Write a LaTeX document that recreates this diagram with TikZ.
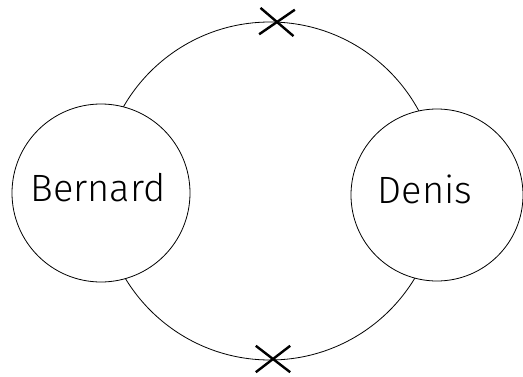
\documentclass[tikz,border=0pt]{standalone}
\usepackage{fontspec}
\setmainfont{Fira Sans Light}
\usetikzlibrary{shapes.misc}
\tikzset{
  loopring/.style={circle, draw, line width=0.8pt, inner sep=0pt},
  person/.style={circle, draw, fill=white, line width=0.8pt, inner sep=0pt},
  persontext/.style={inner sep=0pt, font=\fontsize{38}{44}\selectfont},
  cutmark/.style={cross out, draw, line width=2.4pt, inner sep=0pt,
    minimum width=32pt, minimum height=24pt},
}
\begin{document}
\begin{tikzpicture}[x=1pt, y=1pt]
  \useasboundingbox (0,0) rectangle (523,376);
  % the loop joining the two people
  \node[loopring, minimum size=338pt] (loop) at (270,185) {};
  % the two people, drawn over the loop
  \node[person, minimum size=178pt] (bernard) at (101,183) {};
  \node[person, minimum size=172pt] (denis) at (437,181) {};
  \node[persontext] (bernardname) at ([xshift=-3pt, yshift=5pt]bernard.center) {Bernard};
  \node[persontext] (denisname) at ([xshift=-12pt, yshift=6pt]denis.center) {Denis};
  % cuts on the loop
  \node[cutmark, rotate=-3] (topcut) at (277,354) {};
  \node[cutmark] (bottomcut) at (273,17) {};
\end{tikzpicture}
\end{document}
